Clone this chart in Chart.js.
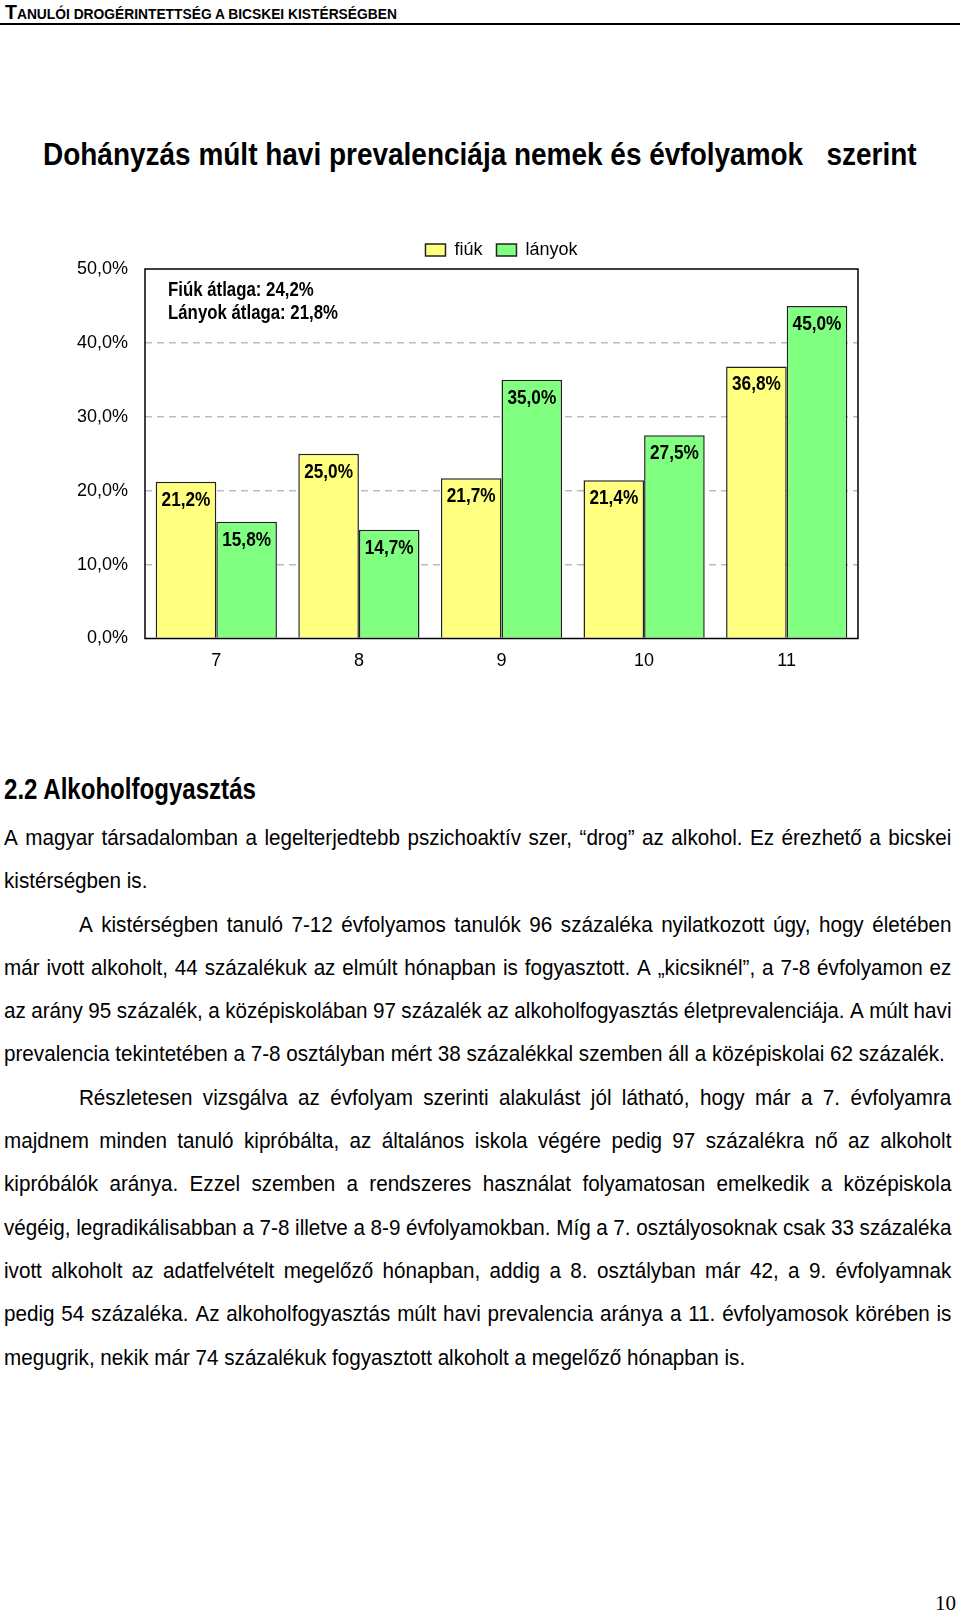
<!DOCTYPE html>
<html lang="hu">
<head>
<meta charset="utf-8">
<script src="https://cdn.jsdelivr.net/npm/chart.js@4.4.0/dist/chart.umd.min.js"></script>
<style>
    body { margin: 0; width: 960px; height: 1613px; position: relative; background: #fff; color: #000; overflow: hidden;
           font-family: 'Liberation Sans', Arial, sans-serif; }
    /* Arial Narrow nincs telepítve: Liberation Sans vízszintesen összenyomva */
    #fejlec { position: absolute; left: 5px; top: 1px; font-weight: bold; font-size: 13.8px; }
    #fejlec .nagy { font-size: 19.5px; }
    #vonal { position: absolute; left: 0; top: 23px; width: 960px; height: 2px; background: #000; }
    #cim { position: absolute; left: 43px; top: 136px; font-weight: bold; font-size: 32px; white-space: pre;
           transform: scaleX(0.874); transform-origin: 0 0; }
    #diagram { position: absolute; left: 60px; top: 227px; width: 882px; height: 460px; }
    #alcim { position: absolute; left: 4px; top: 773px; font-weight: bold; font-size: 29px; white-space: nowrap;
             transform: scaleX(0.83); transform-origin: 0 0; }
    #szoveg { position: absolute; left: 4px; top: 817px; width: 987px; font-size: 21.5px; line-height: 43.3px;
              transform: scaleX(0.96); transform-origin: 0 0; }
    #szoveg div { white-space: nowrap; }
    #szoveg div.sorkizart { display: flex; justify-content: space-between; gap: 3px; }
    #szoveg div.behuz { padding-left: 78px; }
    #oldal { position: absolute; right: 4px; top: 1591px; font-family: 'Liberation Serif', 'Times New Roman', serif; font-size: 21px; }
</style>
</head>
<body>
<div id="fejlec"><span class="nagy">T</span>ANULÓI DROGÉRINTETTSÉG A BICSKEI KISTÉRSÉGBEN</div>
<div id="vonal"></div>
<div id="cim">Dohányzás múlt havi prevalenciája nemek és évfolyamok   szerint</div>
<div id="diagram"><canvas id="chartDohanyzas"></canvas></div>
<div id="alcim">2.2 Alkoholfogyasztás</div>
<div id="szoveg">
    <div class="sorkizart">A magyar társadalomban a legelterjedtebb pszichoaktív szer, “drog” az alkohol. Ez érezhető a bicskei</div>
    <div>kistérségben is.</div>
    <div class="sorkizart behuz">A kistérségben tanuló 7-12 évfolyamos tanulók 96 százaléka nyilatkozott úgy, hogy életében</div>
    <div class="sorkizart">már ivott alkoholt, 44 százalékuk az elmúlt hónapban is fogyasztott. A „kicsiknél”, a 7-8 évfolyamon ez</div>
    <div class="sorkizart">az arány 95 százalék, a középiskolában 97 százalék az alkoholfogyasztás életprevalenciája. A múlt havi</div>
    <div>prevalencia tekintetében a 7-8 osztályban mért 38 százalékkal szemben áll a középiskolai 62 százalék.</div>
    <div class="sorkizart behuz">Részletesen vizsgálva az évfolyam szerinti alakulást jól látható, hogy már a 7. évfolyamra</div>
    <div class="sorkizart">majdnem minden tanuló kipróbálta, az általános iskola végére pedig 97 százalékra nő az alkoholt</div>
    <div class="sorkizart">kipróbálók aránya. Ezzel szemben a rendszeres használat folyamatosan emelkedik a középiskola</div>
    <div class="sorkizart">végéig, legradikálisabban a 7-8 illetve a 8-9 évfolyamokban. Míg a 7. osztályosoknak csak 33 százaléka</div>
    <div class="sorkizart">ivott alkoholt az adatfelvételt megelőző hónapban, addig a 8. osztályban már 42, a 9. évfolyamnak</div>
    <div class="sorkizart">pedig 54 százaléka. Az alkoholfogyasztás múlt havi prevalencia aránya a 11. évfolyamosok körében is</div>
    <div>megugrik, nekik már 74 százalékuk fogyasztott alkoholt a megelőző hónapban is.</div>
</div>
<div id="oldal">10</div>

<script>
// sorkizárt sorok: szavanként szétosztva, hogy a sortörés ne változzon
document.querySelectorAll('#szoveg div.sorkizart').forEach(sor => {
    const szavak = sor.textContent.trim().split(/\s+/);
    sor.textContent = '';
    szavak.forEach(sz => {
        const span = document.createElement('span');
        span.textContent = sz;
        sor.appendChild(span);
    });
});

// Adatok
const evfolyamok = ['7', '8', '9', '10', '11'];
const fiuk = [21.2, 25.0, 21.7, 21.4, 36.8];
const lanyok = [15.8, 14.7, 35.0, 27.5, 45.0];
const yMin = 0;
const yMax = 50;
const yLepes = 10;
const atlagSorok = ['Fiúk átlaga: 24,2%', 'Lányok átlaga: 21,8%'];

const ARIAL = "'Liberation Sans', Arial, sans-serif";
const SZUKITES = 0.82;

function szazalek(v) {
    return v.toFixed(1).replace('.', ',') + '%';
}

// keskeny betűs szöveg a vásznon
function szukSzoveg(ctx, szoveg, x, y) {
    ctx.save();
    ctx.translate(x, y);
    ctx.scale(SZUKITES, 1);
    ctx.fillText(szoveg, 0, 0);
    ctx.restore();
}

// Értékek az oszlopok tetején + átlagok + keret
const feliratok = {
    id: 'feliratok',
    afterDatasetsDraw(chart) {
        const ctx = chart.ctx;
        const area = chart.chartArea;
        ctx.save();

        ctx.font = 'bold 21px ' + ARIAL;
        ctx.fillStyle = '#000';
        ctx.textAlign = 'center';
        ctx.textBaseline = 'middle';
        chart.data.datasets.forEach((ds, i) => {
            chart.getDatasetMeta(i).data.forEach((bar, j) => {
                szukSzoveg(ctx, szazalek(ds.data[j]), bar.x, bar.y + 18);
            });
        });

        ctx.textAlign = 'left';
        ctx.font = 'bold 20.5px ' + ARIAL;
        atlagSorok.forEach((sor, k) => {
            szukSzoveg(ctx, sor, area.left + 23, area.top + 21 + k * 23);
        });

        // keret
        ctx.strokeStyle = '#000';
        ctx.lineWidth = 1.5;
        ctx.strokeRect(area.left, area.top, area.right - area.left, area.bottom - area.top);
        ctx.restore();
    }
};

const ctx = document.getElementById('chartDohanyzas').getContext('2d');
new Chart(ctx, {
    type: 'bar',
    data: {
        labels: evfolyamok,
        datasets: [
            {
                label: 'fiúk',
                data: fiuk,
                backgroundColor: '#FFFF80',
                borderColor: '#222',
                borderWidth: 1.5
            },
            {
                label: 'lányok',
                data: lanyok,
                backgroundColor: '#80FF80',
                borderColor: '#222',
                borderWidth: 1.5
            }
        ]
    },
    options: {
        responsive: true,
        maintainAspectRatio: false,
        animation: false,
        devicePixelRatio: 1,
        layout: { padding: { top: 0, right: 84, left: 0, bottom: 0 } },
        datasets: { bar: { categoryPercentage: 0.85, barPercentage: 1.0 } },
        plugins: {
            legend: {
                position: 'top',
                fullSize: false, // csak a rajzterület fölött, középen
                labels: {
                    color: '#000',
                    font: { family: ARIAL, size: 18 },
                    boxWidth: 20,
                    boxHeight: 12,
                    padding: 14
                }
            },
            tooltip: { enabled: false }
        },
        scales: {
            x: {
                grid: { display: false, drawTicks: false },
                border: { display: false },
                ticks: { color: '#000', font: { family: ARIAL, size: 18 }, padding: 12 },
                afterFit: (scale) => { scale.height = 48.5; }
            },
            y: {
                min: yMin,
                max: yMax,
                grid: {
                    drawTicks: false,
                    lineWidth: 1.5,
                    color: (c) => (c.tick && (c.tick.value === yMin || c.tick.value === yMax)) ? 'rgba(0,0,0,0)' : '#bdbdbd'
                },
                border: { display: false, dash: [7, 5] },
                ticks: {
                    stepSize: yLepes,
                    color: '#000',
                    font: { family: ARIAL, size: 18 },
                    padding: 17,
                    callback: (v) => szazalek(v)
                },
                afterFit: (scale) => { scale.width = 85; }
            }
        }
    },
    plugins: [feliratok]
});
</script>
</body>
</html>
